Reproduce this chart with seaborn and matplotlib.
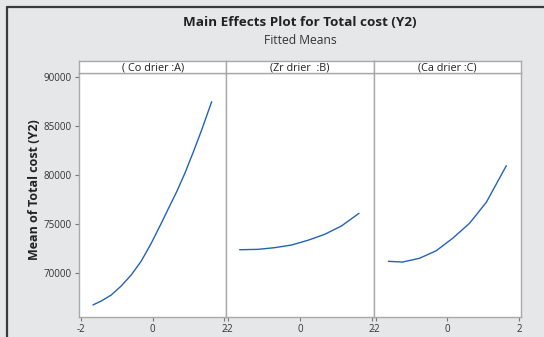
import matplotlib
matplotlib.use("Agg")
import matplotlib.pyplot as plt
from matplotlib.lines import Line2D
import seaborn as sns
import pandas as pd

# ---- data ----
factors = ["( Co drier :A)", "(Zr drier  :B)", "(Ca drier :C)"]
x_A = [-1.67, -1.44, -1.16, -0.88, -0.60, -0.32, -0.04, 0.24, 0.52, 0.67, 0.90, 1.14, 1.37, 1.65]
y_A = [66790, 67190, 67800, 68720, 69840, 71250, 73070, 75100, 77200, 78300, 80190, 82390, 84600, 87480]
x_B = [-1.69, -1.18, -0.71, -0.24, 0.22, 0.69, 1.16, 1.65]
y_B = [72410, 72450, 72620, 72890, 73370, 73980, 74830, 76120]
x_C = [-1.65, -1.25, -0.78, -0.31, 0.15, 0.62, 1.09, 1.65]
y_C = [71230, 71160, 71540, 72310, 73580, 75100, 77240, 80970]
x_ticks = [-2, 0, 2]
y_ticks = [70000, 75000, 80000, 85000, 90000]
title = "Main Effects Plot for Total cost (Y2)"
subtitle = "Fitted Means"
ylabel = "Mean of Total cost (Y2)"

df = pd.concat([
    pd.DataFrame({"factor": factors[0], "x": x_A, "y": y_A}),
    pd.DataFrame({"factor": factors[1], "x": x_B, "y": y_B}),
    pd.DataFrame({"factor": factors[2], "x": x_C, "y": y_C}),
])

sns.set_style("white")
plt.rcParams["font.family"] = ["Open Sans", "DejaVu Sans"]

W, H = 544, 337
fig = plt.figure(figsize=(W / 100, H / 100), dpi=100)
bg = "#e6e7e9"
fig.patch.set_facecolor(bg)

left, right = 79 / W, 521 / W
bottom = (H - 317.3) / H
top = (H - 73.3) / H
pw = (right - left) / 3
strip_h = 12.8 / H
spine_c = "#a9a9a9"
line_c = "#2163b8"

for i, f in enumerate(factors):
    ax = fig.add_axes([left + i * pw, bottom, pw, top - bottom])
    ax.set_facecolor("white")
    sub = df[df["factor"] == f]
    sns.lineplot(data=sub, x="x", y="y", ax=ax, color=line_c, lw=1.0,
                 estimator=None, sort=False)
    ax.set_xlim(-2.06, 2.06)
    ax.set_ylim(65533, 90372)
    ax.set_xticks(x_ticks)
    ax.set_xticklabels([str(t) for t in x_ticks])
    ax.set_xlabel("")
    ax.set_ylabel("")
    for s in ax.spines.values():
        s.set_color(spine_c)
        s.set_linewidth(1.0)
    ax.tick_params(axis="both", colors="#777777", length=3, width=0.8,
                   labelsize=7, pad=2, direction="out", labelcolor="#333333")
    if i == 0:
        ax.set_yticks(y_ticks)
        ax.set_yticklabels([str(t) for t in y_ticks])
        ax.tick_params(axis="y", left=True)
    else:
        ax.set_yticks([])
    ax.tick_params(axis="x", bottom=True)
    # strip
    sax = fig.add_axes([left + i * pw, top, pw, strip_h])
    sax.set_xticks([]); sax.set_yticks([])
    sax.set_facecolor("white")
    for s in sax.spines.values():
        s.set_color(spine_c)
        s.set_linewidth(1.0)
    sax.text(0.5, 0.45, f, ha="center", va="center", fontsize=7.8,
             color="#222222", transform=sax.transAxes)

fig.text((left + right) / 2, 1 - 22 / H, title, ha="center", va="center",
         fontsize=9.7, fontweight="bold", color="#222222")
fig.text((left + right) / 2, 1 - 41 / H, subtitle, ha="center", va="center",
         fontsize=8.7, color="#333333")
fig.text(35 / W, 1 - 190 / H, ylabel, ha="center", va="center", rotation=90,
         fontsize=9, fontweight="bold", color="#222222")

# outer dark frame (top and left)
fig.add_artist(Line2D([7 / W, 1.0], [1 - 7 / H, 1 - 7 / H], color="#3a3a3a",
                      lw=1.6, transform=fig.transFigure))
fig.add_artist(Line2D([7 / W, 7 / W], [0, 1 - 7 / H], color="#3a3a3a",
                      lw=1.6, transform=fig.transFigure))

fig.savefig("out.png", dpi=100, facecolor=bg)
